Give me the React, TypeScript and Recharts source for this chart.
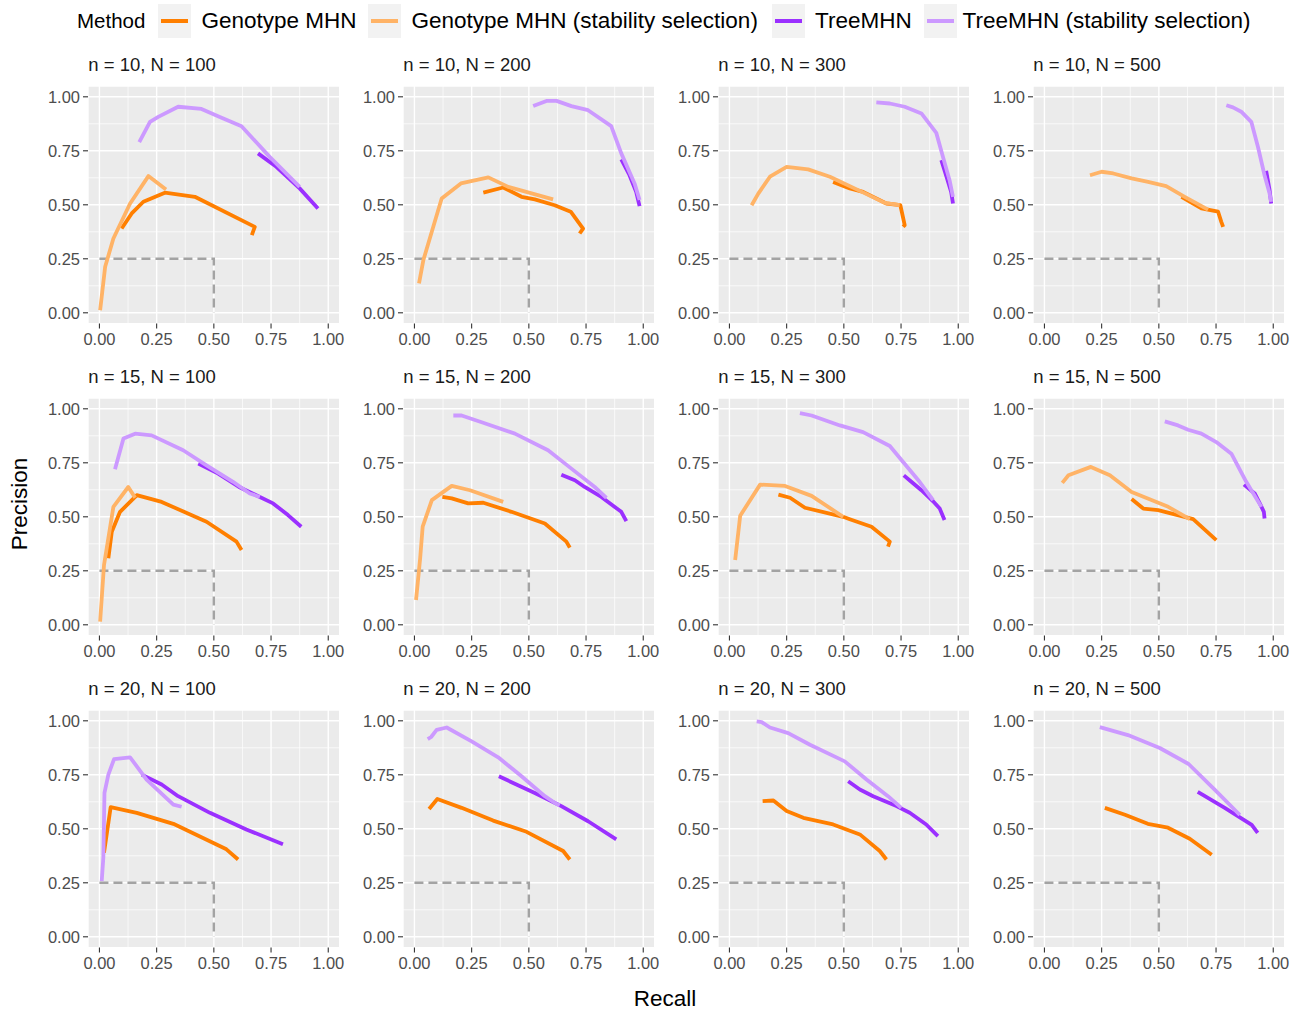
import React from "react";
import { LineChart, Line, XAxis, YAxis, CartesianGrid, ReferenceLine } from "recharts";

type Pt = [number, number]; // [recall, precision]

const methods = ["Genotype MHN", "Genotype MHN (stability selection)", "TreeMHN", "TreeMHN (stability selection)"];
const methodColors = ["#FF7F00", "#FFB366", "#9B30FF", "#CC99FF"];
const nValues = [10, 15, 20];
const bigNValues = [100, 200, 300, 500];
const majorTicks = [0, 0.25, 0.5, 0.75, 1];
const minorTicks = [0.125, 0.375, 0.625, 0.875];
// dashed reference corner (recall 0.5, precision 0.25)
const guide: Pt[] = [[0, 0.25], [0.5, 0.25], [0.5, 0]];

// n = 10
const geno_10_100: Pt[] = [[0.097, 0.39], [0.141, 0.46], [0.192, 0.514], [0.286, 0.556], [0.417, 0.537], [0.679, 0.398], [0.666, 0.36]];
const genoStab_10_100: Pt[] = [[0.003, 0.012], [0.025, 0.213], [0.061, 0.344], [0.134, 0.506], [0.214, 0.633], [0.291, 0.571]];
const tree_10_100: Pt[] = [[0.693, 0.738], [0.773, 0.676], [0.875, 0.576], [0.955, 0.483]];
const treeStab_10_100: Pt[] = [[0.174, 0.79], [0.221, 0.884], [0.257, 0.907], [0.344, 0.954], [0.446, 0.944], [0.526, 0.907], [0.621, 0.864], [0.744, 0.722], [0.875, 0.583]];

const geno_10_200: Pt[] = [[0.301, 0.556], [0.388, 0.58], [0.468, 0.537], [0.526, 0.525], [0.613, 0.498], [0.683, 0.468], [0.737, 0.39], [0.722, 0.367]];
const genoStab_10_200: Pt[] = [[0.02, 0.136], [0.039, 0.244], [0.119, 0.529], [0.203, 0.599], [0.323, 0.627], [0.41, 0.583], [0.606, 0.525]];
const tree_10_200: Pt[] = [[0.904, 0.71], [0.94, 0.637], [0.969, 0.56], [0.984, 0.494]];
const treeStab_10_200: Pt[] = [[0.519, 0.957], [0.577, 0.981], [0.621, 0.981], [0.686, 0.957], [0.759, 0.938], [0.86, 0.864], [0.904, 0.738], [0.962, 0.599], [0.984, 0.522]];

const geno_10_300: Pt[] = [[0.453, 0.606], [0.526, 0.576], [0.584, 0.56], [0.686, 0.506], [0.747, 0.498], [0.766, 0.406], [0.759, 0.398]];
const genoStab_10_300: Pt[] = [[0.097, 0.498], [0.126, 0.552], [0.177, 0.63], [0.25, 0.676], [0.344, 0.664], [0.439, 0.63], [0.563, 0.568], [0.679, 0.509], [0.744, 0.498]];
const tree_10_300: Pt[] = [[0.926, 0.707], [0.951, 0.622], [0.969, 0.56], [0.977, 0.506]];
const treeStab_10_300: Pt[] = [[0.642, 0.974], [0.701, 0.969], [0.766, 0.954], [0.839, 0.923], [0.904, 0.833], [0.933, 0.722], [0.962, 0.614], [0.977, 0.537]];

const geno_10_500: Pt[] = [[0.599, 0.537], [0.686, 0.483], [0.759, 0.468], [0.773, 0.421], [0.781, 0.398]];
const genoStab_10_500: Pt[] = [[0.199, 0.637], [0.25, 0.653], [0.301, 0.645], [0.381, 0.622], [0.453, 0.606], [0.532, 0.586], [0.613, 0.537], [0.715, 0.478]];
const tree_10_500: Pt[] = [[0.969, 0.657], [0.984, 0.568], [0.991, 0.506]];
const treeStab_10_500: Pt[] = [[0.795, 0.961], [0.824, 0.951], [0.86, 0.931], [0.904, 0.884], [0.933, 0.769], [0.962, 0.637], [0.984, 0.552], [0.991, 0.514]];

// n = 15
const geno_15_100: Pt[] = [[0.039, 0.308], [0.054, 0.431], [0.09, 0.523], [0.156, 0.592], [0.163, 0.6], [0.272, 0.569], [0.468, 0.477], [0.599, 0.385], [0.621, 0.346]];
const genoStab_15_100: Pt[] = [[0.003, 0.015], [0.02, 0.277], [0.061, 0.546], [0.126, 0.638], [0.156, 0.588]];
const tree_15_100: Pt[] = [[0.432, 0.746], [0.519, 0.7], [0.61, 0.638], [0.701, 0.592], [0.759, 0.562], [0.824, 0.508], [0.882, 0.454]];
const treeStab_15_100: Pt[] = [[0.068, 0.72], [0.105, 0.862], [0.156, 0.885], [0.228, 0.877], [0.366, 0.808], [0.468, 0.738], [0.584, 0.662], [0.657, 0.608], [0.701, 0.592]];

const geno_15_200: Pt[] = [[0.122, 0.592], [0.163, 0.585], [0.235, 0.562], [0.301, 0.565], [0.424, 0.523], [0.57, 0.469], [0.664, 0.385], [0.679, 0.357]];
const genoStab_15_200: Pt[] = [[0.007, 0.115], [0.025, 0.308], [0.036, 0.454], [0.076, 0.577], [0.163, 0.643], [0.243, 0.623], [0.388, 0.569]];
const tree_15_200: Pt[] = [[0.642, 0.695], [0.701, 0.669], [0.744, 0.638], [0.817, 0.592], [0.904, 0.523], [0.926, 0.48]];
const treeStab_15_200: Pt[] = [[0.17, 0.969], [0.206, 0.969], [0.294, 0.938], [0.439, 0.885], [0.584, 0.808], [0.686, 0.723], [0.788, 0.638], [0.839, 0.588]];

const geno_15_300: Pt[] = [[0.214, 0.603], [0.265, 0.588], [0.33, 0.542], [0.497, 0.5], [0.526, 0.489], [0.621, 0.454], [0.701, 0.385], [0.693, 0.362]];
const genoStab_15_300: Pt[] = [[0.025, 0.3], [0.047, 0.505], [0.134, 0.649], [0.243, 0.643], [0.359, 0.597], [0.497, 0.5]];
const tree_15_300: Pt[] = [[0.762, 0.692], [0.795, 0.662], [0.839, 0.623], [0.89, 0.572], [0.919, 0.538], [0.94, 0.485]];
const treeStab_15_300: Pt[] = [[0.308, 0.98], [0.359, 0.969], [0.483, 0.923], [0.584, 0.892], [0.701, 0.828], [0.759, 0.754], [0.831, 0.662], [0.89, 0.577]];

const geno_15_500: Pt[] = [[0.381, 0.582], [0.432, 0.538], [0.497, 0.531], [0.65, 0.489], [0.751, 0.392]];
const genoStab_15_500: Pt[] = [[0.078, 0.657], [0.105, 0.692], [0.203, 0.731], [0.286, 0.692], [0.381, 0.615], [0.541, 0.546], [0.635, 0.489]];
const tree_15_500: Pt[] = [[0.872, 0.649], [0.919, 0.608], [0.945, 0.554], [0.959, 0.523], [0.962, 0.492]];
const treeStab_15_500: Pt[] = [[0.526, 0.942], [0.584, 0.923], [0.628, 0.903], [0.686, 0.885], [0.751, 0.846], [0.817, 0.792], [0.882, 0.662], [0.948, 0.546]];

// n = 20
const geno_20_100: Pt[] = [[0.02, 0.389], [0.049, 0.6], [0.163, 0.574], [0.323, 0.523], [0.555, 0.405], [0.606, 0.358]];
const genoStab_20_100: Pt[] = [];
const tree_20_100: Pt[] = [[0.185, 0.751], [0.272, 0.705], [0.344, 0.651], [0.483, 0.574], [0.642, 0.497], [0.802, 0.428]];
const treeStab_20_100: Pt[] = [[0.01, 0.258], [0.017, 0.366], [0.022, 0.666], [0.039, 0.751], [0.064, 0.823], [0.134, 0.831], [0.206, 0.728], [0.323, 0.612], [0.359, 0.602]];

const geno_20_200: Pt[] = [[0.064, 0.592], [0.1, 0.638], [0.206, 0.597], [0.344, 0.538], [0.49, 0.486], [0.65, 0.397], [0.679, 0.358]];
const genoStab_20_200: Pt[] = [];
const tree_20_200: Pt[] = [[0.369, 0.743], [0.526, 0.666], [0.642, 0.605], [0.759, 0.535], [0.882, 0.451]];
const treeStab_20_200: Pt[] = [[0.058, 0.915], [0.073, 0.925], [0.097, 0.958], [0.141, 0.969], [0.25, 0.905], [0.366, 0.831], [0.468, 0.743], [0.57, 0.651], [0.621, 0.615], [0.635, 0.609]];

const geno_20_300: Pt[] = [[0.145, 0.628], [0.192, 0.631], [0.25, 0.582], [0.323, 0.551], [0.453, 0.52], [0.57, 0.474], [0.657, 0.397], [0.686, 0.358]];
const genoStab_20_300: Pt[] = [];
const tree_20_300: Pt[] = [[0.519, 0.72], [0.57, 0.682], [0.628, 0.651], [0.73, 0.605], [0.788, 0.574], [0.86, 0.52], [0.911, 0.466]];
const treeStab_20_300: Pt[] = [[0.119, 0.997], [0.141, 0.994], [0.177, 0.969], [0.257, 0.943], [0.352, 0.889], [0.504, 0.812], [0.599, 0.728], [0.693, 0.651], [0.751, 0.597]];

const geno_20_500: Pt[] = [[0.264, 0.597], [0.352, 0.565], [0.452, 0.523], [0.54, 0.505], [0.635, 0.454], [0.731, 0.38]];
const genoStab_20_500: Pt[] = [];
const tree_20_500: Pt[] = [[0.67, 0.671], [0.788, 0.597], [0.906, 0.518], [0.932, 0.481]];
const treeStab_20_500: Pt[] = [[0.242, 0.971], [0.365, 0.934], [0.504, 0.874], [0.63, 0.8], [0.745, 0.68], [0.854, 0.564]];

const panelSeries: Pt[][][] = [
  [geno_10_100, genoStab_10_100, tree_10_100, treeStab_10_100],
  [geno_10_200, genoStab_10_200, tree_10_200, treeStab_10_200],
  [geno_10_300, genoStab_10_300, tree_10_300, treeStab_10_300],
  [geno_10_500, genoStab_10_500, tree_10_500, treeStab_10_500],
  [geno_15_100, genoStab_15_100, tree_15_100, treeStab_15_100],
  [geno_15_200, genoStab_15_200, tree_15_200, treeStab_15_200],
  [geno_15_300, genoStab_15_300, tree_15_300, treeStab_15_300],
  [geno_15_500, genoStab_15_500, tree_15_500, treeStab_15_500],
  [geno_20_100, genoStab_20_100, tree_20_100, treeStab_20_100],
  [geno_20_200, genoStab_20_200, tree_20_200, treeStab_20_200],
  [geno_20_300, genoStab_20_300, tree_20_300, treeStab_20_300],
  [geno_20_500, genoStab_20_500, tree_20_500, treeStab_20_500],
];

const FONT = "'Liberation Sans', Arial, Helvetica, sans-serif";
const colLeft = [88.3, 403.3, 718.3, 1033.3];
const rowTop = [85.5, 397.8, 710];
const plotW = 251.7;
const plotH = 237.6;
const yAxisW = 50;
const rightPad = 16;

const toObj = (pts: Pt[]) => pts.map(([x, y]) => ({ x, y }));
const fmt = (v: number) => v.toFixed(2);

function Panel({ idx }: { idx: number }) {
  const row = Math.floor(idx / 4);
  const col = idx % 4;
  const series = panelSeries[idx];
  const left = colLeft[col];
  const top = rowTop[row];
  const tickStyle = { fill: "#4D4D4D", fontSize: 16.5, fontFamily: FONT };
  return (
    <>
      <div style={{ position: "absolute", left: left, top: top - 32, fontSize: 18.5, color: "#1A1A1A", whiteSpace: "nowrap" }}>
        {`n = ${nValues[row]}, N = ${bigNValues[col]}`}
      </div>
      <div style={{ position: "absolute", left: left - yAxisW, top: top }}>
        <LineChart width={yAxisW + plotW + rightPad} height={plotH + 32} margin={{ top: 0, right: rightPad, bottom: 0, left: 0 }}>
          <CartesianGrid stroke="#FFFFFF" strokeWidth={1.4} fill="#EBEBEB" fillOpacity={1} />
          {minorTicks.map((t) => (
            <ReferenceLine key={"mx" + t} x={t} stroke="#FFFFFF" strokeWidth={0.7} />
          ))}
          {minorTicks.map((t) => (
            <ReferenceLine key={"my" + t} y={t} stroke="#FFFFFF" strokeWidth={0.7} />
          ))}
          <XAxis
            type="number"
            dataKey="x"
            domain={[-0.05, 1.05]}
            ticks={majorTicks}
            tickFormatter={fmt}
            allowDataOverflow
            axisLine={false}
            tickLine={{ stroke: "#333333", strokeWidth: 1.1 }}
            tickSize={5}
            tickMargin={5}
            height={32}
            tick={tickStyle}
            interval={0}
          />
          <YAxis
            type="number"
            dataKey="y"
            domain={[-0.05, 1.05]}
            ticks={majorTicks}
            tickFormatter={fmt}
            allowDataOverflow
            axisLine={false}
            tickLine={{ stroke: "#333333", strokeWidth: 1.1 }}
            tickSize={5}
            tickMargin={3}
            width={yAxisW}
            tick={tickStyle}
            interval={0}
          />
          <Line
            data={toObj(guide)}
            dataKey="y"
            type="linear"
            stroke="#A3A3A3"
            strokeWidth={2.4}
            strokeDasharray="9 5"
            dot={false}
            activeDot={false}
            isAnimationActive={false}
          />
          {series.map((pts, i) =>
            pts.length ? (
              <Line
                key={methods[i]}
                name={methods[i]}
                data={toObj(pts)}
                dataKey="y"
                type="linear"
                stroke={methodColors[i]}
                strokeWidth={3.8}
                strokeLinejoin="round"
                dot={false}
                activeDot={false}
                isAnimationActive={false}
              />
            ) : null
          )}
        </LineChart>
      </div>
    </>
  );
}

const legendKeyX = [157.7, 367.6, 771.8, 923.7];
const legendTextX = [201.5, 411.5, 815, 962.5];

export default function App() {
  return (
    <div style={{ position: "absolute", left: 0, top: 0, width: 1301, height: 1010, background: "#FFFFFF", fontFamily: FONT, overflow: "hidden" }}>
      {/* legend */}
      <div style={{ position: "absolute", left: 77, top: 21, transform: "translateY(-50%)", fontSize: 20.5, color: "#000" }}>Method</div>
      {methods.map((m, i) => (
        <React.Fragment key={m}>
          <div style={{ position: "absolute", left: legendKeyX[i], top: 4, width: 33, height: 34, background: "#F2F2F2" }}>
            <div style={{ position: "absolute", left: 3, right: 3, top: 15, height: 4, background: methodColors[i] }} />
          </div>
          <div style={{ position: "absolute", left: legendTextX[i], top: 21, transform: "translateY(-50%)", fontSize: 22.5, color: "#000", whiteSpace: "nowrap" }}>
            {m}
          </div>
        </React.Fragment>
      ))}
      {panelSeries.map((_, idx) => (
        <Panel key={idx} idx={idx} />
      ))}
      {/* axis titles */}
      <div style={{ position: "absolute", left: 665, top: 999, transform: "translate(-50%, -50%)", fontSize: 22.5, color: "#000" }}>Recall</div>
      <div style={{ position: "absolute", left: 20, top: 504, transform: "translate(-50%, -50%) rotate(-90deg)", fontSize: 22.5, color: "#000", whiteSpace: "nowrap" }}>
        Precision
      </div>
    </div>
  );
}
